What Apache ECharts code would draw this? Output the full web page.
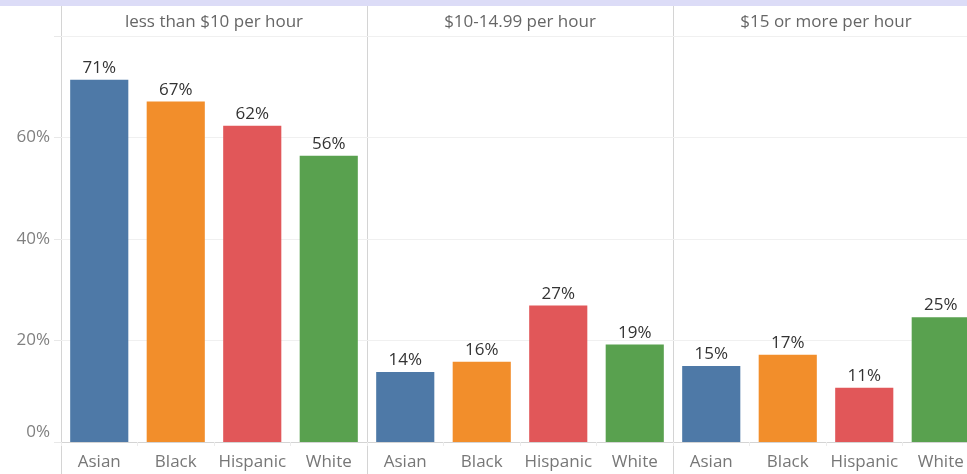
<!DOCTYPE html>
<html>
<head>
<meta charset="utf-8">
<script src="https://cdn.jsdelivr.net/npm/echarts@6/dist/echarts.min.js"></script>
<style>
html,body{margin:0;padding:0;background:#fff;overflow:hidden;width:967px;height:474px;}
#c{width:979px;height:474px;}
</style>
</head>
<body>
<div id="c"></div>
<script>
const panelTitles = ['less than $10 per hour', '$10-14.99 per hour', '$15 or more per hour'];
const races = ['Asian', 'Black', 'Hispanic', 'White'];
const lessThan10 = [71.4, 67.1, 62.3, 56.4];
const from10to15 = [13.8, 15.8, 26.9, 19.2];
const over15 = [15.0, 17.2, 10.7, 24.6];
const yTickValues = [0, 20, 40, 60];
const raceColors = ['#4e79a7', '#f28e2b', '#e15759', '#59a14f'];

const panelData = [lessThan10, from10to15, over15];
const FONT = 'Open Sans';
const FS = 17;
const grids = [
  {left: 61, width: 306},
  {left: 367, width: 306},
  {left: 673, width: 306}
];
const chart = echarts.init(document.getElementById('c'));
const option = {
  animation: false,
  textStyle: {fontFamily: FONT},
  grid: grids.map(g => ({left: g.left, width: g.width, top: 36, bottom: 32, containLabel: false})),
  xAxis: grids.map((g, i) => ({
    type: 'category', gridIndex: i, data: races,
    axisLine: {show: true, lineStyle: {color: '#d4d4d4', width: 1}},
    axisTick: {show: true, length: 4, lineStyle: {color: '#ececec'}},
    axisLabel: {color: '#777', fontSize: FS, fontFamily: FONT, margin: 12, interval: 0}
  })),
  yAxis: grids.map((g, i) => ({
    type: 'value', gridIndex: i, min: 0, max: 80, interval: 20,
    axisLine: {show: false},
    axisTick: {show: i === 0, length: 7, lineStyle: {color: '#e8e8e8'}},
    splitLine: {show: true, lineStyle: {color: '#f0f0f0', width: 1}},
    axisLabel: {
      show: i === 0, color: '#808080', fontSize: FS, fontFamily: FONT, margin: 11,
      formatter: v => yTickValues.indexOf(v) < 0 ? '' : (v === 0 ? '{z|0%}' : v + '%'),
      rich: {z: {color: '#808080', fontSize: FS, fontFamily: FONT, padding: [0, 0, 20, 0]}}
    }
  })),
  series: panelData.map((arr, i) => ({
    type: 'bar', xAxisIndex: i, yAxisIndex: i,
    barWidth: '76%',
    data: arr.map((v, k) => ({value: v, itemStyle: {color: raceColors[k]}})),
    label: {
      show: true, position: 'top', distance: 3, color: '#333', fontSize: FS, fontFamily: FONT,
      formatter: p => Math.round(p.value) + '%'
    }
  })),
  graphic: [
    {type: 'rect', shape: {x: 0, y: 0, width: 979, height: 6}, style: {fill: '#dcdcf7'}, silent: true},
    {type: 'line', shape: {x1: 61, y1: 36.5, x2: 979, y2: 36.5}, style: {stroke: '#d4d4d4', lineWidth: 1}},
    {type: 'line', shape: {x1: 61.5, y1: 6, x2: 61.5, y2: 474}, style: {stroke: '#d4d4d4', lineWidth: 1}},
    {type: 'line', shape: {x1: 367.5, y1: 6, x2: 367.5, y2: 474}, style: {stroke: '#d4d4d4', lineWidth: 1}},
    {type: 'line', shape: {x1: 673.5, y1: 6, x2: 673.5, y2: 474}, style: {stroke: '#d4d4d4', lineWidth: 1}}
  ].concat(panelTitles.map((t, i) => ({
    type: 'text', x: grids[i].left + grids[i].width / 2, y: 22,
    style: {text: t, fill: '#666', fontSize: FS, fontFamily: FONT, align: 'center', verticalAlign: 'middle'}
  })))
};
chart.setOption(option);
</script>
</body>
</html>
